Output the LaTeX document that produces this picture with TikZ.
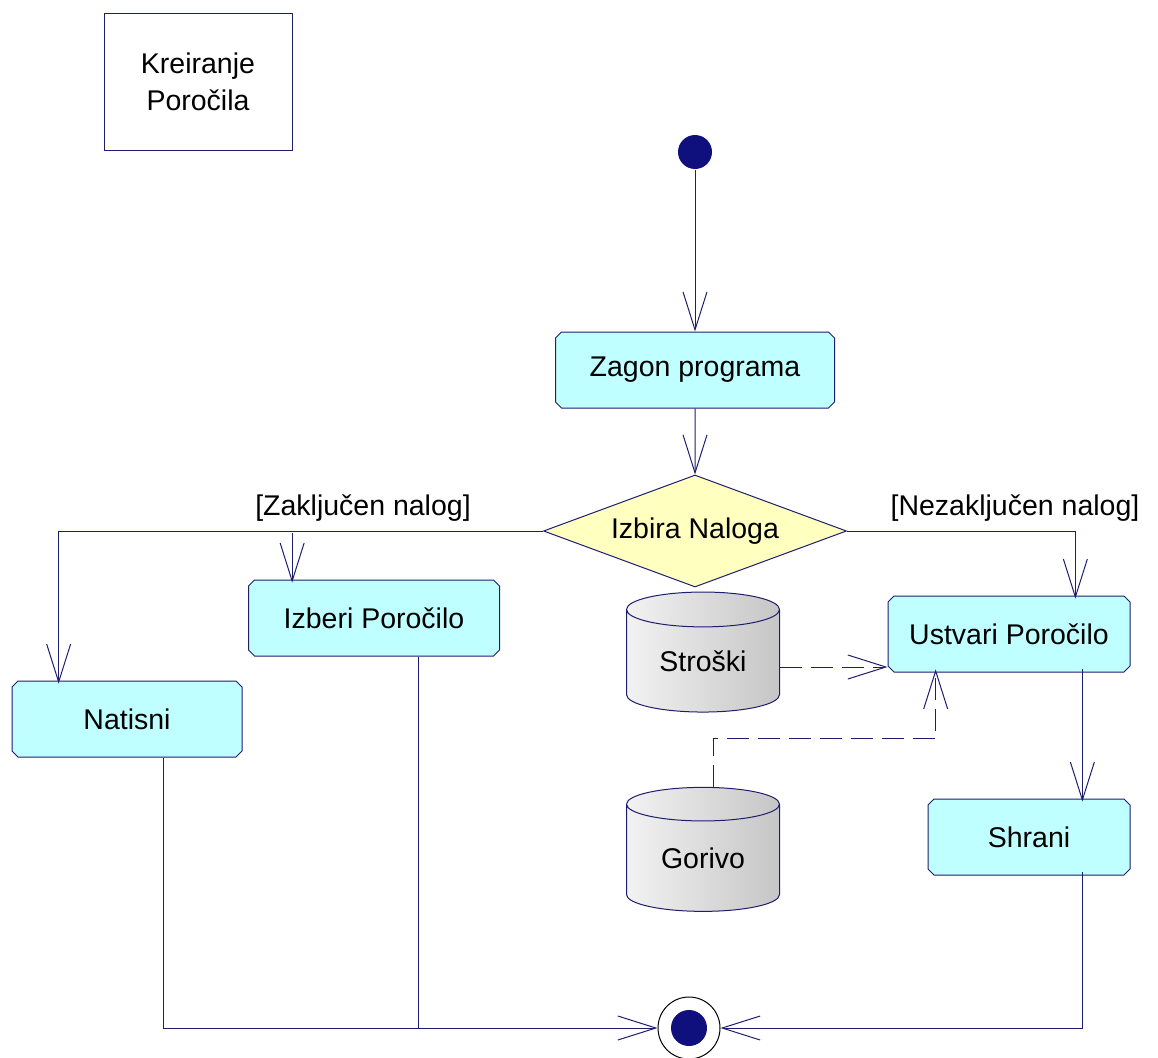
\documentclass[tikz,border=0pt]{standalone}
\usepackage{fontspec}
\setmainfont{Liberation Sans}
\usetikzlibrary{arrows.meta,shapes.geometric,shapes.misc,calc}
\definecolor{umlline}{RGB}{30,30,110}
\definecolor{actfill}{RGB}{192,255,255}
\definecolor{decfill}{RGB}{255,255,192}
\definecolor{dotfill}{RGB}{15,15,125}
\begin{document}
\begin{tikzpicture}[x=1pt, y=-1pt, line width=1pt,
  font=\fontsize{28.5}{33}\selectfont,
  activity/.style={chamfered rectangle, chamfered rectangle xsep=3pt,
    chamfered rectangle ysep=3pt, draw=umlline,
    fill=actfill, minimum height=76pt, inner sep=0pt},
  decision/.style={diamond, aspect=2.705, draw=umlline, fill=decfill,
    minimum width=303pt, minimum height=112pt, inner sep=0pt},
  store/.style={cylinder, shape border rotate=90, aspect=0.4, draw=umlline,
    left color=gray!10, right color=gray!45, minimum width=153pt,
    minimum height=120pt, inner sep=0pt},
  flow/.style={draw=umlline, -{Straight Barb[length=38pt,width=24pt]}},
  dep/.style={flow, dash pattern=on 22pt off 9pt},
  guard/.style={inner sep=0pt}]
  \useasboundingbox (0,0) rectangle (1158,1057);
  \node[draw=umlline, minimum width=188pt, minimum height=137pt, align=center,
    font=\fontsize{28.5}{37}\selectfont] (title) at (198,82) {Kreiranje\\Poročila};
  \node[circle, fill=dotfill, minimum size=34pt, inner sep=0pt] (start) at (695,152) {};
  \node[activity, minimum width=279pt] (zagon) at (695,370) {Zagon programa};
  \node[decision] (izbira) at (695,531) {Izbira Naloga};
  \node[activity, minimum width=251pt] (izberi) at (374,618) {Izberi Poročilo};
  \node[activity, minimum width=230pt] (natisni) at (127,719) {Natisni};
  \node[activity, minimum width=242pt] (ustvari) at (1009,634) {Ustvari Poročilo};
  \node[activity, minimum width=202pt] (shrani) at (1029,837) {Shrani};
  \node[store] (stroski) at (703,661) {Stroški};
  \node[store, minimum height=124pt] (gorivo) at (703,858) {Gorivo};
  \node[circle, draw=black, fill=white, minimum size=62pt, inner sep=0pt] (end) at (689,1028) {};
  \fill[dotfill] (end) circle (18);
  \node[guard] (zakljucen) at (363,508) {[Zaključen nalog]};
  \node[guard] (nezakljucen) at (1015,508) {[Nezaključen nalog]};

  \draw[flow] (start) -- (zagon);
  \draw[flow] (zagon) -- (izbira);
  \draw[flow] (izbira.west) -| ($(natisni.north west)+(44,0)$);
  \draw[flow] ($(izberi.north west)+(41,-50)$) -- ($(izberi.north west)+(41,0)$);
  \draw[flow] (izbira.east) -| ($(ustvari.north east)+(-52,0)$);
  \draw[flow] ($(ustvari.south east)+(-45,0)$) -- ($(shrani.north east)+(-45,0)$);
  \draw[dep] (stroski.east |- 0,667) -- (ustvari.west |- 0,667);
  \draw[dep] ($(gorivo.top)+(10,0)$) |- ($(ustvari.south west)+(45,69)$)
    -- ($(ustvari.south west)+(45,0)$);
  \draw[flow] ($(natisni.south)+(36,0)$) |- (end.west);
  \draw[umlline] ($(izberi.south)+(44,0)$) coordinate (izbfoot)
    -- (izbfoot |- end.west);
  \draw[flow] ($(shrani.south east)+(-45,0)$) |- (end.east);
\end{tikzpicture}
\end{document}
